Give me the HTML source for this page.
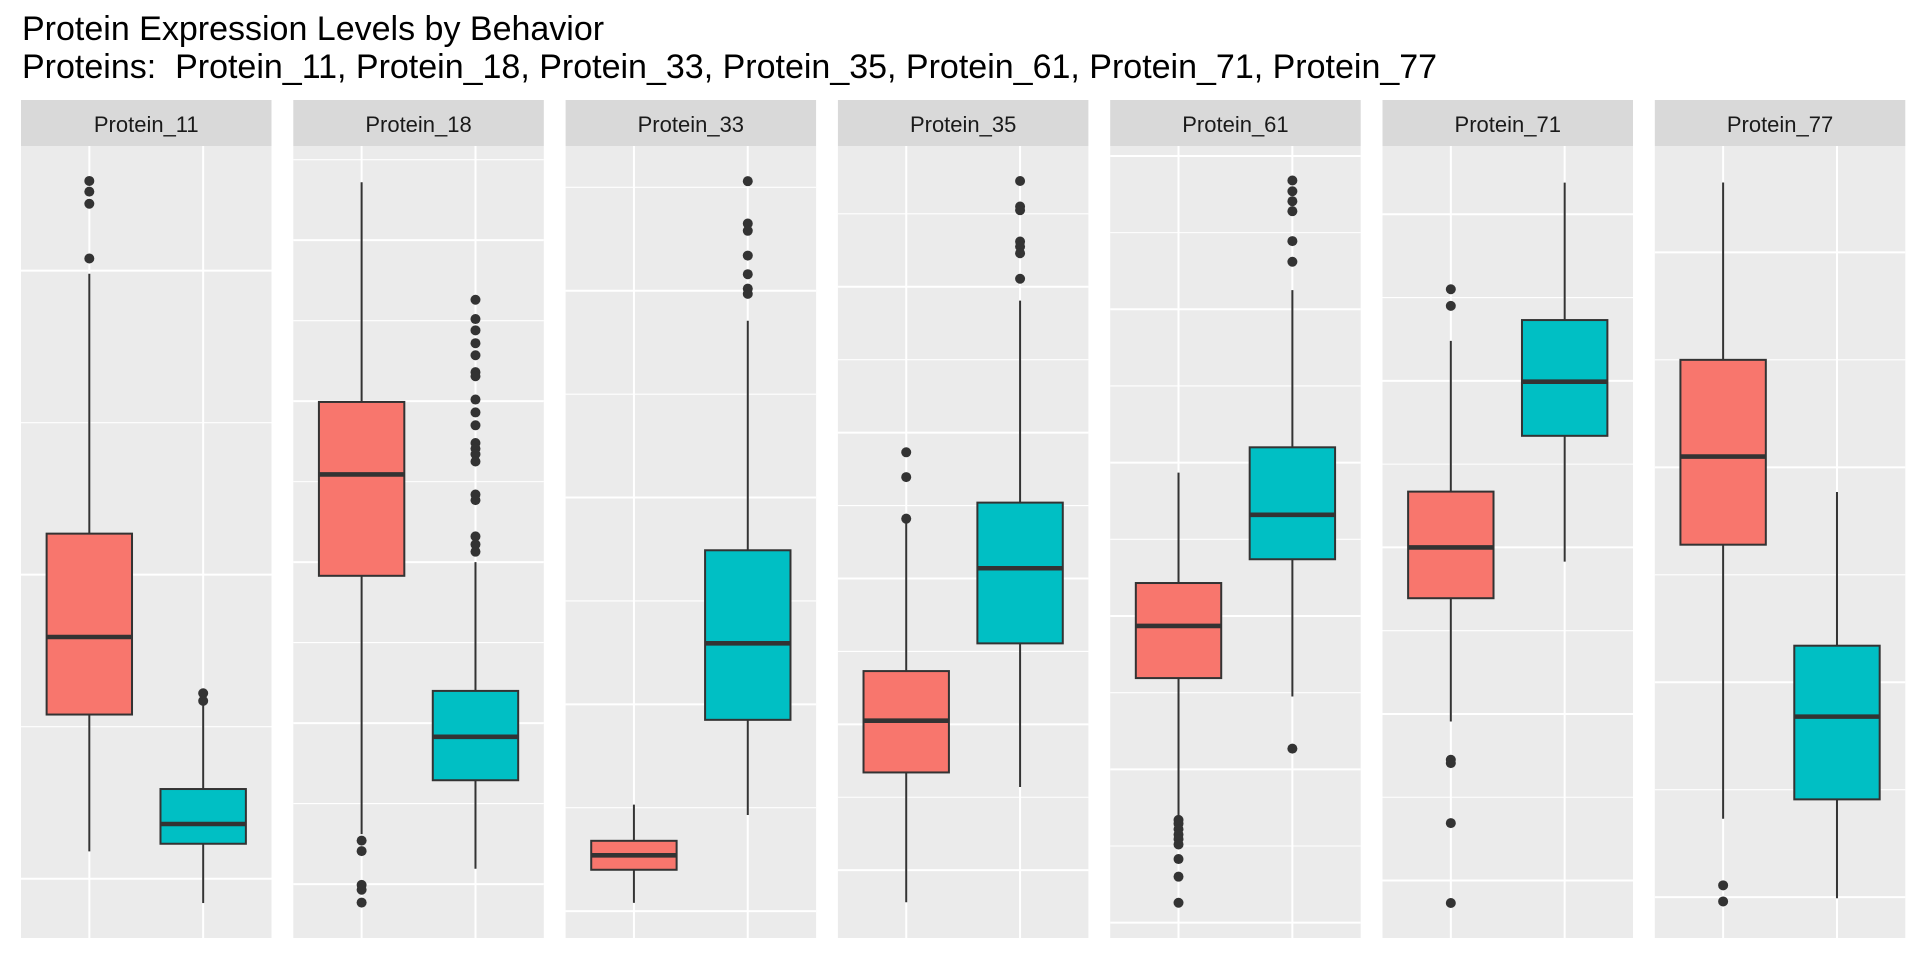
<!DOCTYPE html>
<html><head><meta charset="utf-8"><style>
html,body{margin:0;padding:0;background:#fff;}
svg{display:block;font-family:"Liberation Sans",Arial,sans-serif;}
</style></head><body>
<svg id="chart" width="1920" height="960" viewBox="0 0 1920 960">
<text x="22" y="40" font-size="34" fill="#000">Protein Expression Levels by Behavior</text>
<text x="22" y="78" font-size="34" fill="#000" xml:space="preserve">Proteins:  Protein_11, Protein_18, Protein_33, Protein_35, Protein_61, Protein_71, Protein_77</text>
<g id="panels"></g>
</svg>
<script>
const proteins = ["Protein_11","Protein_18","Protein_33","Protein_35","Protein_61","Protein_71","Protein_77"];
const yMin = [-0.39,-0.67,-0.26,-0.93,-0.20,-0.69,-0.38];
const yMax = [4.82,9.17,7.40,9.93,10.13,8.82,6.99];
// group A (red)
const lowA = [0.18,0.62,0.08,-0.44,1.40,1.91,0.73];
const q1A = [1.08,3.83,0.40,1.34,3.19,3.39,3.28];
const medA = [1.59,5.09,0.54,2.05,3.87,4.00,4.10];
const q3A = [2.27,5.99,0.68,2.73,4.43,4.67,5.00];
const highA = [3.98,8.72,1.03,4.76,5.87,6.48,6.65];
const outA = [[4.59,4.52,4.44,4.08],[0.54,0.41,-0.01,-0.07,-0.23],[],[5.73,5.39,4.82],[1.34,1.29,1.22,1.15,1.09,1.02,0.83,0.60,0.26],[7.10,6.90,1.45,1.41,0.69,-0.27],[0.11,-0.04]];
// group B (cyan)
const lowB = [-0.16,0.19,0.93,1.14,2.95,3.83,-0.01];
const q1B = [0.23,1.29,1.85,3.11,4.74,5.34,0.91];
const medB = [0.36,1.83,2.59,4.14,5.32,5.99,1.68];
const q3B = [0.59,2.40,3.49,5.04,6.20,6.73,2.34];
const highB = [1.14,4.00,5.71,7.81,8.25,8.38,3.77];
const outB = [[1.22,1.17],[7.26,7.02,6.88,6.72,6.57,6.36,6.31,6.02,5.86,5.70,5.48,5.41,5.34,5.25,4.84,4.77,4.32,4.22,4.13],[7.06,6.65,6.58,6.34,6.16,6.02,5.97],[9.45,9.10,9.05,8.62,8.55,8.46,8.11],[9.68,9.54,9.41,9.28,8.89,8.62,2.27],[],[]];

const NS="http://www.w3.org/2000/svg";
const root=document.getElementById("panels");
const P0=21, PW=250.5, PITCH=272.3, PT=146, PB=938, ST=100;
function mk(tag,attrs,parent){const e=document.createElementNS(NS,tag);for(const k in attrs)e.setAttribute(k,attrs[k]);parent.appendChild(e);return e;}

proteins.forEach((name,i)=>{
  const x0=P0+i*PITCH;
  const g=mk("g",{},root);
  
  
  const strip=mk("rect",{x:x0,y:ST,width:PW,height:PT-ST,fill:"#D9D9D9"},g);
  
  
  const st=mk("text",{x:x0+PW/2,y:132,"font-size":22,"text-anchor":"middle",fill:"#1A1A1A"},g);
  st.textContent=name;
  
  
  const bg=mk("rect",{x:x0,y:PT,width:PW,height:PB-PT,fill:"#EBEBEB"},g);
  
  
  const y=v=>PB-(v-yMin[i])/(yMax[i]-yMin[i])*(PB-PT);
  const xs=u=>x0+(u-0.4)/2.2*PW;
  for(let t=Math.ceil(yMin[i]);t<=Math.floor(yMax[i]);t++){
    const gl=mk("line",{x1:x0,x2:x0+PW,y1:y(t),y2:y(t),stroke:"#fff","stroke-width":(t%2===0)?2:1.1},g);
    
    
  }
  [1,2].forEach(u=>{
    const vl=mk("line",{x1:xs(u),x2:xs(u),y1:PT,y2:PB,stroke:"#fff","stroke-width":2},g);
    
    
  });
  const groups=[
    {u:1,fill:"#F8766D",lo:lowA[i],q1:q1A[i],md:medA[i],q3:q3A[i],hi:highA[i],out:outA[i],key:"a"},
    {u:2,fill:"#00BFC4",lo:lowB[i],q1:q1B[i],md:medB[i],q3:q3B[i],hi:highB[i],out:outB[i],key:"b"}];
  groups.forEach(s=>{
    const cx=xs(s.u), hw=0.375/2.2*PW;
    const bx=mk("g",{},g);
    
    
    mk("line",{x1:cx,x2:cx,y1:y(s.hi),y2:y(s.q3),stroke:"#333","stroke-width":2},bx);
    mk("line",{x1:cx,x2:cx,y1:y(s.q1),y2:y(s.lo),stroke:"#333","stroke-width":2},bx);
    mk("rect",{x:cx-hw,y:y(s.q3),width:2*hw,height:y(s.q1)-y(s.q3),fill:s.fill,stroke:"#333","stroke-width":2},bx);
    mk("line",{x1:cx-hw,x2:cx+hw,y1:y(s.md),y2:y(s.md),stroke:"#333","stroke-width":4.6},bx);
    s.out.forEach(v=>{
      const c=mk("circle",{cx:cx,cy:y(v),r:5,fill:"#333"},g);
      
      
    });
  });
});
</script>
</body></html>
